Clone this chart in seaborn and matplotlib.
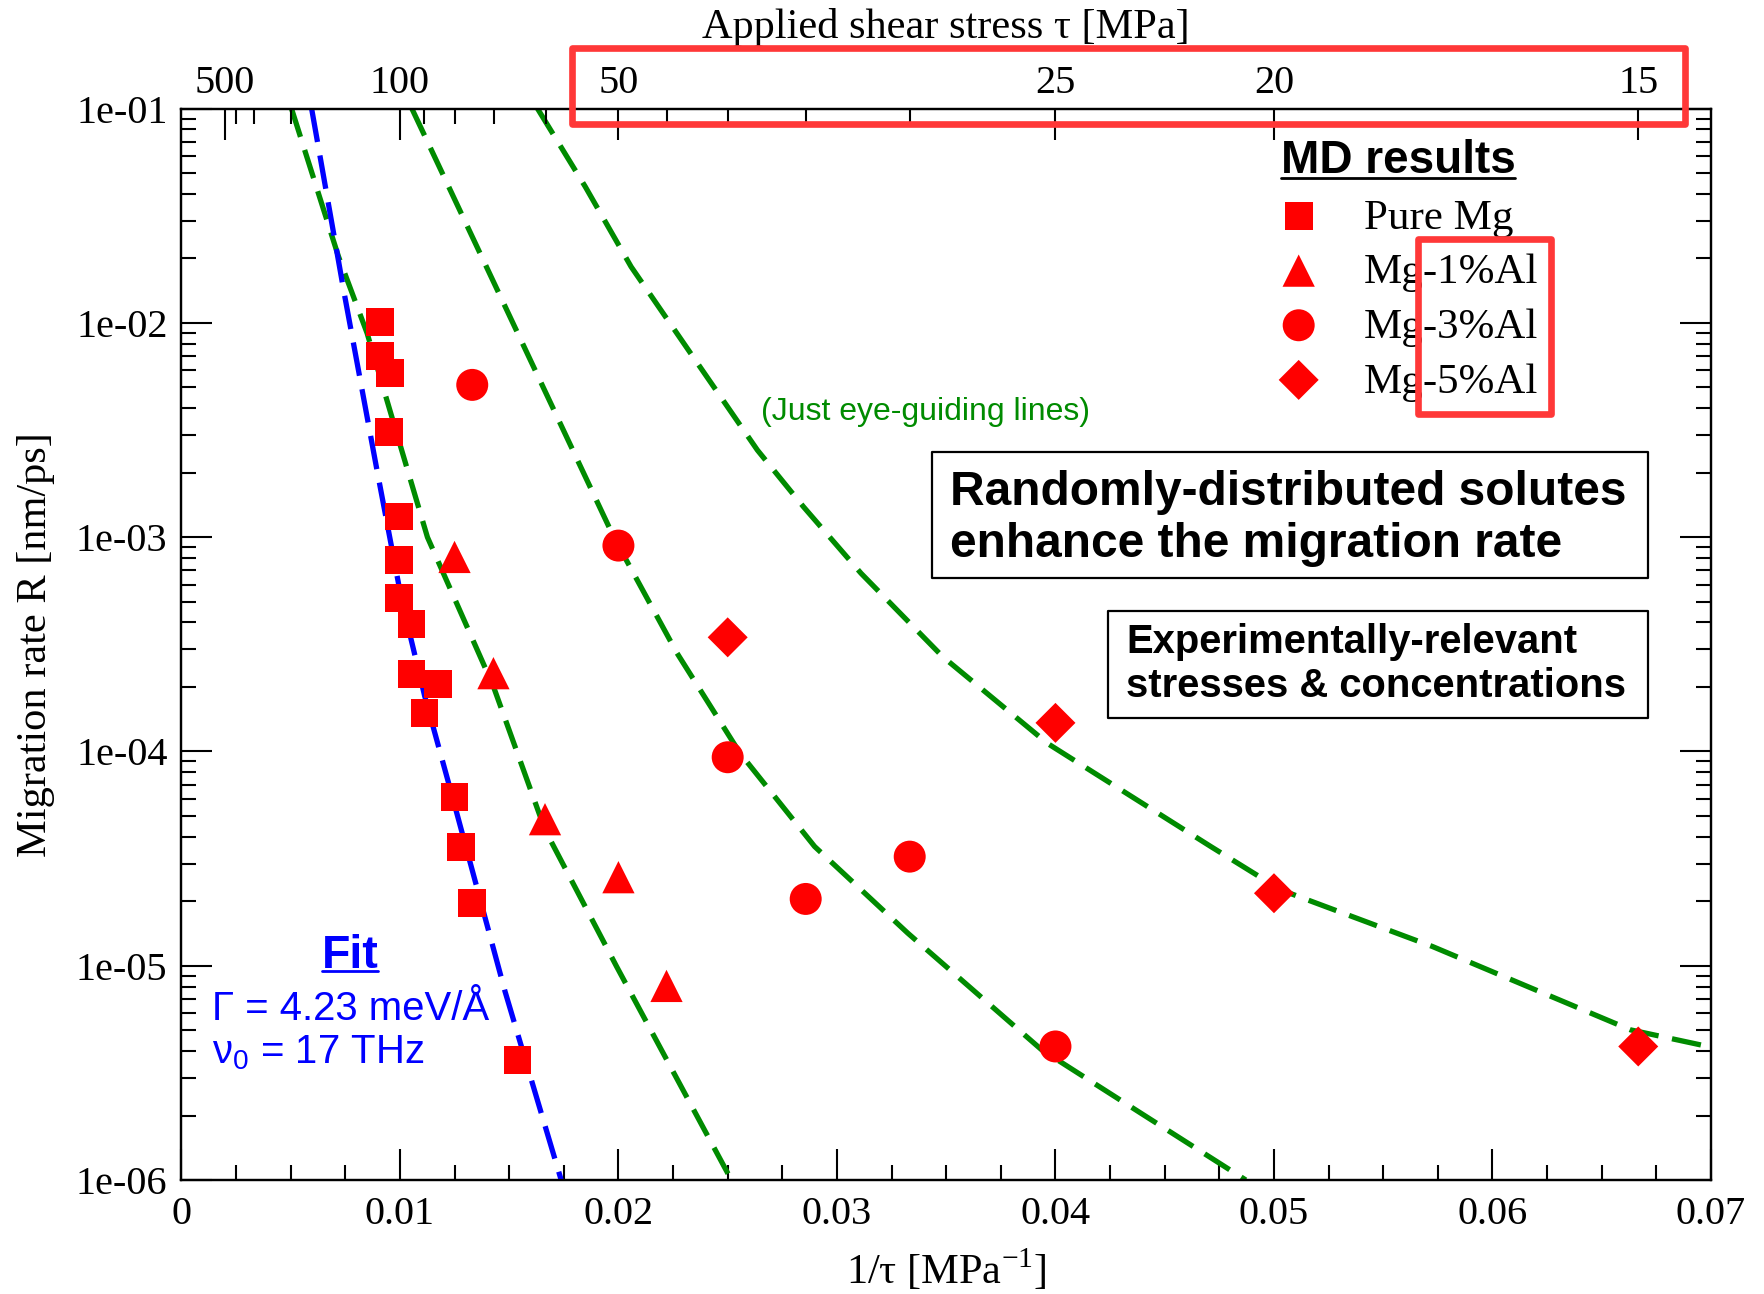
import numpy as np
import matplotlib
matplotlib.use("Agg")
import matplotlib.pyplot as plt
import seaborn as sns
from matplotlib.patches import Rectangle
from matplotlib.lines import Line2D
from matplotlib.ticker import LogLocator, NullFormatter, MultipleLocator

# ---------------- data ----------------
series_names = ["Pure Mg", "Mg-1%Al", "Mg-3%Al", "Mg-5%Al"]

pure_x = [0.00909, 0.00909, 0.00953, 0.00950, 0.00995, 0.00995, 0.00995, 0.01053,
          0.01053, 0.01173, 0.01113, 0.01250, 0.01281, 0.01331, 0.01538]
pure_R = [1.01e-2, 7.0e-3, 5.82e-3, 3.11e-3, 1.25e-3, 7.83e-4, 5.19e-4, 3.93e-4,
          2.30e-4, 2.06e-4, 1.51e-4, 6.12e-5, 3.57e-5, 1.97e-5, 3.63e-6]

al1_x = [0.0125, 0.01428, 0.01664, 0.0200, 0.0222]
al1_R = [8.09e-4, 2.32e-4, 4.83e-5, 2.59e-5, 8.05e-6]

al3_x = [0.01331, 0.0200, 0.0250, 0.02857, 0.03333, 0.0400]
al3_R = [5.14e-3, 9.14e-4, 9.4e-5, 2.05e-5, 3.23e-5, 4.2e-6]

al5_x = [0.0250, 0.0400, 0.0500, 0.06667]
al5_R = [3.41e-4, 1.36e-4, 2.18e-5, 4.2e-6]

# blue fit curve
fit_x = [0.00596, 0.00745, 0.00890, 0.01008, 0.01113, 0.01244, 0.01481, 0.01738]
fit_R = [1.0e-1, 1.377e-2, 2.19e-3, 5.09e-4, 1.82e-4, 5.94e-5, 7.59e-6, 1.0e-6]

# green eye-guiding lines
guide1_x = [0.00504, 0.00719, 0.00850, 0.01008, 0.01126, 0.01428, 0.01664, 0.01992, 0.02517]
guide1_R = [1.0e-1, 2.04e-2, 8.95e-3, 2.55e-3, 1.0e-3, 2.01e-4, 4.31e-5, 9.9e-6, 1.0e-6]

guide2_x = [0.01055, 0.01979, 0.02268, 0.02557, 0.02898, 0.03324, 0.03937, 0.04391, 0.04871]
guide2_R = [1.0e-1, 1.0e-3, 2.88e-4, 9.8e-5, 3.6e-5, 1.42e-5, 4.05e-6, 2.05e-6, 1.0e-6]

guide3_x = [0.01630, 0.01848, 0.02058, 0.02320, 0.02636, 0.02846, 0.03110, 0.03484,
            0.03964, 0.04711, 0.05031, 0.05725, 0.06632, 0.07000]
guide3_R = [1.0e-1, 4.33e-2, 1.83e-2, 7.48e-3, 2.55e-3, 1.39e-3, 6.79e-4, 2.77e-4,
            1.09e-4, 3.6e-5, 2.26e-5, 1.23e-5, 5.02e-6, 4.17e-6]

x_ticks = [0.0, 0.01, 0.02, 0.03, 0.04, 0.05, 0.06, 0.07]
x_tick_labels = ["0", "0.01", "0.02", "0.03", "0.04", "0.05", "0.06", "0.07"]
y_ticks = [1e-6, 1e-5, 1e-4, 1e-3, 1e-2, 1e-1]
y_tick_labels = ["1e-06", "1e-05", "1e-04", "1e-03", "1e-02", "1e-01"]
tau_major = [500, 100, 50, 25, 20, 15]
tau_minor = [400, 300, 200, 90, 80, 70, 60, 45, 40, 35, 30]

# ---------------- style ----------------
sns.set_style("ticks", rc={"axes.edgecolor": "black", "xtick.color": "black",
                           "ytick.color": "black", "text.color": "black",
                           "axes.labelcolor": "black"})
plt.rcParams["font.family"] = ["Liberation Serif", "DejaVu Serif"]

RED = "#ff0000"
GREEN = "#008b00"
BLUE = "#0000ff"
HILITE = "#ff3838"
SANS = ["Liberation Sans", "DejaVu Sans"]

W, H = 1765, 1294
fig = plt.figure(figsize=(W / 100, H / 100), dpi=100)
AL, AR, AT, AB = 181.4, 1711.0, 108.7, 1180.0
ax = fig.add_axes([AL / W, 1 - AB / H, (AR - AL) / W, (AB - AT) / H])


def fx(x):
    return x / W


def fy(y):
    return 1 - y / H


ax.set_yscale("log")
ax.set_xlim(0, 0.07)
ax.set_ylim(1e-6, 1e-1)

# guide lines
for gx, gr in [(guide1_x, guide1_R), (guide2_x, guide2_R), (guide3_x, guide3_R)]:
    sns.lineplot(x=gx, y=gr, ax=ax, color=GREEN, linewidth=3.8,
                 linestyle=(0, (5.6, 2.6)), estimator=None, sort=False, zorder=2)
sns.lineplot(x=fit_x, y=fit_R, ax=ax, color=BLUE, linewidth=3.8,
             linestyle=(0, (6.4, 2.6)), estimator=None, sort=False, zorder=3)

# markers
marker_spec = [("Pure Mg", pure_x, pure_R, "s", 400),
               ("Mg-1%Al", al1_x, al1_R, "^", 540),
               ("Mg-3%Al", al3_x, al3_R, "o", 530),
               ("Mg-5%Al", al5_x, al5_R, "D", 415)]
for name, xs, ys, mk, sz in marker_spec:
    sns.scatterplot(x=xs, y=ys, ax=ax, marker=mk, s=sz, color=RED,
                    edgecolor="none", linewidth=0, label=name, zorder=5, legend=False)

# ticks
ax.set_xticks(x_ticks)
ax.set_xticklabels(x_tick_labels)
ax.xaxis.set_minor_locator(MultipleLocator(0.0025))
ax.set_yticks(y_ticks)
ax.set_yticklabels(y_tick_labels)
ax.yaxis.set_minor_locator(LogLocator(base=10, subs=np.arange(2, 10), numticks=30))
ax.yaxis.set_minor_formatter(NullFormatter())
ax.tick_params(which="both", direction="in", width=1.5, colors="black")
ax.tick_params(which="major", length=22)
ax.tick_params(which="minor", length=11)
ax.tick_params(axis="x", which="both", top=False, bottom=True, labelsize=29, pad=11.5)
ax.tick_params(axis="y", which="both", left=True, right=True, labelsize=29, pad=10)
for sp in ax.spines.values():
    sp.set_linewidth(1.6)

ax.set_xlabel("1/τ [MPa$^{\\mathregular{-1}}$]", fontsize=30.5, labelpad=10)
ax.set_ylabel("Migration rate R [nm/ps]", fontsize=30.5, labelpad=15)

# secondary (stress) axis on top
ax2 = ax.twiny()
ax2.set_xlim(ax.get_xlim())
ax2.set_xticks([1.0 / t for t in tau_major])
ax2.set_xticklabels([str(t) for t in tau_major])
ax2.set_xticks([1.0 / t for t in tau_minor], minor=True)
ax2.tick_params(which="both", direction="in", width=1.5, colors="black",
                top=True, bottom=False, labelsize=29, pad=5)
ax2.tick_params(which="major", length=22)
ax2.tick_params(which="minor", length=11)
for sp in ax2.spines.values():
    sp.set_linewidth(1.6)
ax2.set_xlabel("Applied shear stress τ [MPa]", fontsize=30.5, labelpad=19)

# legend
handles, labels = ax.get_legend_handles_labels()
pairs = [(h, l) for h, l in zip(handles, labels) if l in series_names]
leg = ax2.legend([p[0] for p in pairs], [p[1] for p in pairs], loc="upper left",
                 bbox_to_anchor=(fx(1280.6), fy(198.5)), bbox_transform=fig.transFigure,
                 frameon=False, fontsize=31, borderpad=0, borderaxespad=0,
                 handlelength=0.84, handletextpad=1.1, labelspacing=0.36,
                 scatterpoints=1, scatteryoffsets=[0.42])

md_title = fig.text(fx(1280.6), fy(173.3), "MD results", family=SANS, weight="bold",
                    fontsize=33, va="baseline", ha="left")

# annotations
fig.text(fx(761), fy(420), "(Just eye-guiding lines)", family=SANS, fontsize=23,
         color=GREEN, va="baseline", ha="left")

fit_title = fig.text(fx(321.5), fy(968.3), "Fit", family=SANS, weight="bold",
                     fontsize=33.5, color=BLUE, va="baseline", ha="left")
fig.text(fx(212), fy(1020), "Γ = 4.23 meV/Å", family=SANS, fontsize=28.9,
         color=BLUE, va="baseline", ha="left")
fig.text(fx(212), fy(1063.3), "ν$_{\\mathregular{0}}$ = 17 THz", family=SANS,
         fontsize=28.9, color=BLUE, va="baseline", ha="left")


def box(x0, y0, x1, y1, color, lw, fill=None, z=6):
    r = Rectangle((fx(x0), fy(y1)), (x1 - x0) / W, (y1 - y0) / H,
                  transform=fig.transFigure, fill=fill is not None,
                  facecolor=fill if fill else "none", edgecolor=color,
                  linewidth=lw, zorder=z, joinstyle="round")
    fig.add_artist(r)


box(931.7, 451.7, 1647.6, 577.7, "black", 1.6, fill="white", z=6)
fig.text(fx(950.3), fy(505), "Randomly-distributed solutes", family=SANS,
         weight="bold", fontsize=34.5, va="baseline", ha="left", zorder=7)
fig.text(fx(950.3), fy(556.7), "enhance the migration rate", family=SANS,
         weight="bold", fontsize=34.5, va="baseline", ha="left", zorder=7)

box(1107.9, 611, 1648, 718.3, "black", 1.6, fill="white", z=6)
fig.text(fx(1126.5), fy(653.3), "Experimentally-relevant", family=SANS,
         weight="bold", fontsize=28.8, va="baseline", ha="left", zorder=7)
fig.text(fx(1126.5), fy(697), "stresses & concentrations", family=SANS,
         weight="bold", fontsize=28.8, va="baseline", ha="left", zorder=7)

# red highlight rectangles
box(572, 47.5, 1685, 123.5, HILITE, 4.8, z=10)
box(1417.7, 238.7, 1551, 413.7, HILITE, 4.8, z=10)

# underlines
fig.canvas.draw()
renderer = fig.canvas.get_renderer()
for t, yline, col in [(md_title, 178.0, "black"), (fit_title, 970.8, BLUE)]:
    bb = t.get_window_extent(renderer)
    fig.add_artist(Line2D([bb.x0 / W, bb.x1 / W], [fy(yline), fy(yline)],
                          transform=fig.transFigure, color=col, linewidth=2.0))

fig.savefig("out.png", dpi=100)
